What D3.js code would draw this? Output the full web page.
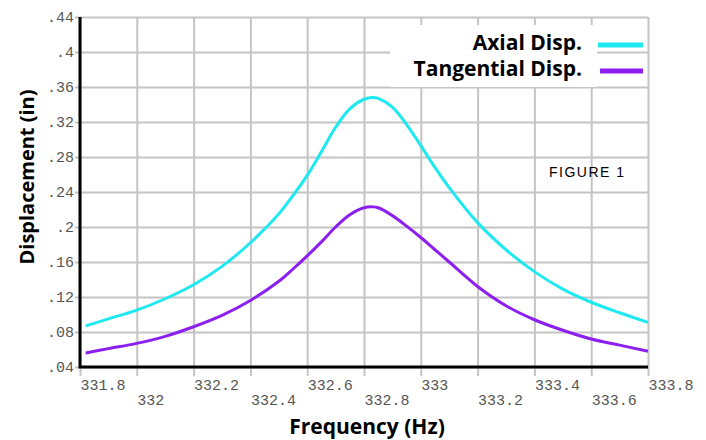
<!DOCTYPE html>
<html>
<head>
<meta charset="utf-8">
<script src="https://cdn.jsdelivr.net/npm/d3@7"></script>
<style>
    body { margin: 0; background: white; }
    svg { display: block; }
</style>
</head>
<body>
<svg id="chart" width="706" height="440"></svg>
<script>
// values
let freq       = [331.82, 331.9, 332.0, 332.1, 332.2, 332.3, 332.4, 332.5, 332.55, 332.6, 332.65, 332.7, 332.75, 332.8, 332.83, 332.85, 332.9, 332.95, 333.0, 333.05, 333.1, 333.2, 333.3, 333.4, 333.5, 333.6, 333.7, 333.8]
let axial      = [0.087, 0.095, 0.105, 0.118, 0.134, 0.155, 0.182, 0.215, 0.236, 0.259, 0.286, 0.314, 0.335, 0.346, 0.348, 0.347, 0.337, 0.317, 0.293, 0.268, 0.245, 0.205, 0.174, 0.149, 0.129, 0.114, 0.102, 0.091]
let tangential = [0.056, 0.061, 0.067, 0.075, 0.086, 0.099, 0.116, 0.138, 0.152, 0.167, 0.183, 0.200, 0.214, 0.222, 0.223, 0.222, 0.213, 0.201, 0.188, 0.174, 0.160, 0.132, 0.110, 0.094, 0.082, 0.072, 0.065, 0.058]

let xTicks = [331.8, 332.0, 332.2, 332.4, 332.6, 332.8, 333.0, 333.2, 333.4, 333.6, 333.8]
let yTicks = [0.04, 0.08, 0.12, 0.16, 0.20, 0.24, 0.28, 0.32, 0.36, 0.40, 0.44]
let seriesNames = ["Axial Disp.", "Tangential Disp."]
let seriesColors = ["#1ee9f0", "#8c1ff0"]

let plot_left = 80, plot_right = 648, plot_top = 17, plot_bottom = 367

let svg = d3.select("#chart")

let x = d3.scaleLinear().domain([331.8, 333.8]).range([plot_left, plot_right])
let y = d3.scaleLinear().domain([0.04, 0.44]).range([plot_bottom, plot_top])

//vertical grid, also used as the tick marks under the axis
let xg = svg.append("g")
    .attr("transform", "translate(0," + plot_bottom + ")")
    .call(d3.axisBottom(x).tickValues(xTicks).tickSizeOuter(0).tickFormat(d => d3.format("")(+d.toFixed(1))))
xg.select(".domain").remove()
xg.selectAll(".tick line")
    .attr("y1", 9)
    .attr("y2", plot_top - plot_bottom)
    .attr("stroke", "#c4c4c4")
    .attr("stroke-width", 2)
xg.selectAll(".tick text")
    .attr("text-anchor", "start")
    .attr("dy", 0)
    .attr("y", (d, i) => i % 2 ? 38 : 23)
    .attr("fill", "#555")
    .style("font-family", "'Liberation Mono', 'DejaVu Sans Mono', monospace")
    .style("font-size", "15px")

//horizontal grid
let yg = svg.append("g")
    .attr("transform", "translate(" + plot_left + ",0)")
    .call(d3.axisLeft(y).tickValues(yTicks).tickSizeOuter(0).tickFormat(d => d3.format(".2~f")(d).replace(/^0/, "")))
yg.select(".domain").remove()
yg.selectAll(".tick line")
    .attr("x1", -5)
    .attr("x2", plot_right - plot_left)
    .attr("stroke", "#c4c4c4")
    .attr("stroke-width", 2)
yg.selectAll(".tick text")
    .attr("x", -6)
    .attr("dy", "0.32em")
    .attr("fill", "#555")
    .style("font-family", "'Liberation Mono', 'DejaVu Sans Mono', monospace")
    .style("font-size", "15px")

//black axis lines
svg.append("path")
    .attr("d", "M" + plot_left + "," + plot_top + "V" + plot_bottom + "H" + plot_right)
    .attr("fill", "none")
    .attr("stroke", "black")
    .attr("stroke-width", 3)

//curves
let line = d3.line().curve(d3.curveCatmullRom.alpha(0.5))
let data = [axial, tangential]
data.forEach((vals, k) => {
    svg.append("path")
        .datum(freq.map((f, i) => [x(f), y(vals[i])]))
        .attr("d", line)
        .attr("fill", "none")
        .attr("stroke", seriesColors[k])
        .attr("stroke-width", 3)
})

//legend
svg.append("rect")
    .attr("x", 390).attr("y", 25)
    .attr("width", 207).attr("height", 62)
    .attr("fill", "white")
seriesNames.forEach((name, k) => {
    svg.append("text")
        .attr("x", 582)
        .attr("y", 50 + k * 26)
        .attr("text-anchor", "end")
        .style("font-family", "'Open Sans', sans-serif")
        .style("font-weight", "bold")
        .style("font-size", "21px")
        .text(name)
    svg.append("line")
        .attr("x1", 598 + k * 2).attr("x2", 643)
        .attr("y1", 45 + k * 26).attr("y2", 45 + k * 26)
        .attr("stroke", seriesColors[k])
        .attr("stroke-width", 5)
})

svg.append("text")
    .attr("x", 549)
    .attr("y", 177)
    .style("font-family", "'Liberation Sans', Arial, sans-serif")
    .style("font-size", "14px")
    .style("letter-spacing", "1.5px")
    .text("FIGURE 1")

//axis titles
svg.append("text")
    .attr("x", 367)
    .attr("y", 434)
    .attr("text-anchor", "middle")
    .style("font-family", "'Open Sans', sans-serif")
    .style("font-weight", "bold")
    .style("font-size", "21px")
    .text("Frequency (Hz)")

svg.append("text")
    .attr("transform", "translate(34,177) rotate(-90)")
    .attr("text-anchor", "middle")
    .style("font-family", "'Open Sans', sans-serif")
    .style("font-weight", "bold")
    .style("font-size", "20px")
    .text("Displacement (in)")
</script>
</body>
</html>
